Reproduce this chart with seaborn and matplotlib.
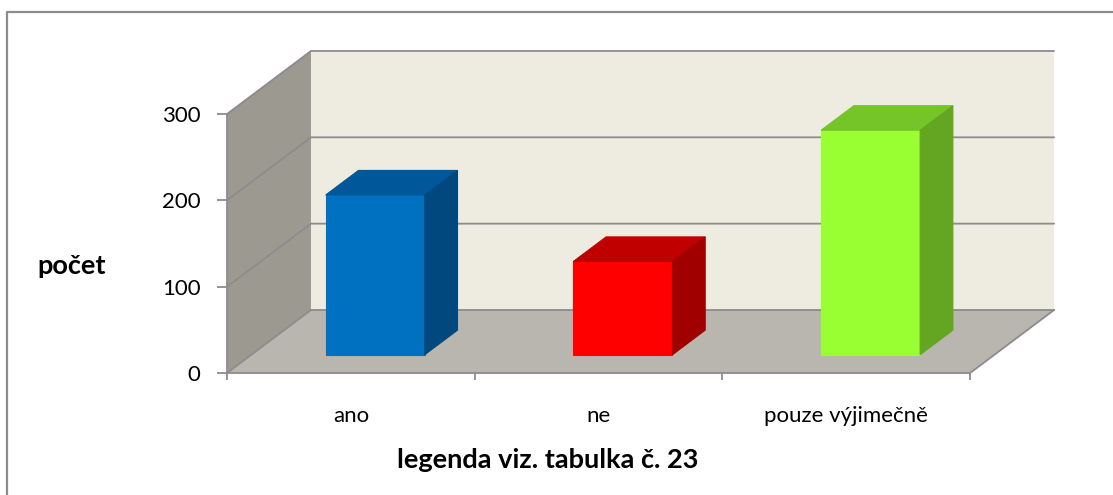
import matplotlib.pyplot as plt
import seaborn as sns
from matplotlib.patches import Polygon, Rectangle
from matplotlib.lines import Line2D

# data
categories = ['ano', 'ne', 'pouze výjimečně']
counts = [185, 108, 260]
y_ticks = [0, 100, 200, 300]

# face colours of the 3D bars (front / top / right side)
front_colors = ['#0070C0', '#FF0000', '#99FF33']
top_colors = ['#00589B', '#C00000', '#76C528']
side_colors = ['#00487E', '#A00000', '#64A622']

sns.set_style('white')
plt.rcParams['font.family'] = ['Lato', 'DejaVu Sans']

W, H = 1113, 495
fig = plt.figure(figsize=(W / 100, H / 100), dpi=100)

# front plane: x=-0.5 at 227 px, y=0 at 373 px
cat_px = 247.7
val_px = 0.8633
xlim = (-0.5, 2.9)
ylim = (0, 380)
ax = fig.add_axes([227 / W, (H - 373) / H,
                   (xlim[1] - xlim[0]) * cat_px / W,
                   (ylim[1] - ylim[0]) * val_px / H])

# depth of the 3D box (full) and of the bars
DX, DY = 0.339, 73
f0, f1 = 0.29, 0.68
top = y_ticks[-1]
grid_col = '#8C8C8C'

# walls and floor
ax.add_patch(Polygon([(-0.5, 0), (-0.5 + DX, DY), (-0.5 + DX, top + DY), (-0.5, top)],
                     fc='#9C9991', ec='none', zorder=0))
ax.add_patch(Polygon([(-0.5 + DX, DY), (2.5 + DX, DY), (2.5 + DX, top + DY), (-0.5 + DX, top + DY)],
                     fc='#EEECE1', ec='none', zorder=0))
ax.add_patch(Polygon([(-0.5, 0), (2.5, 0), (2.5 + DX, DY), (-0.5 + DX, DY)],
                     fc='#B8B6AF', ec='none', zorder=0))

# gridlines running over left wall and back wall
for v in y_ticks:
    ax.plot([-0.5, -0.5 + DX, 2.5 + DX], [v, v + DY, v + DY], color=grid_col, lw=1.3, zorder=1)
ax.plot([2.5, 2.5 + DX], [0, DY], color=grid_col, lw=1.3, zorder=1)

# front faces of bars
sns.barplot(x=categories, y=counts, hue=categories, palette=front_colors, width=0.4,
            saturation=1, legend=False, ax=ax)

bars = sorted([p for p in ax.patches if isinstance(p, Rectangle)], key=lambda p: p.get_x())
ddx, ddy = (f1 - f0) * DX, (f1 - f0) * DY
for i, p in enumerate(bars):
    x, w, h = p.get_x() + f0 * DX, p.get_width(), p.get_height()
    y = f0 * DY
    p.set_x(x)
    p.set_y(y)
    p.set_zorder(3)
    p.set_edgecolor(front_colors[i])
    p.set_linewidth(0.8)
    ax.add_patch(Polygon([(x, y + h), (x + w, y + h), (x + w + ddx, y + h + ddy), (x + ddx, y + h + ddy)],
                         fc=top_colors[i], ec=top_colors[i], lw=0.8, zorder=3))
    ax.add_patch(Polygon([(x + w, y), (x + w, y + h), (x + w + ddx, y + h + ddy), (x + w + ddx, y + ddy)],
                         fc=side_colors[i], ec=side_colors[i], lw=0.8, zorder=3))

ax.set_xlim(*xlim)
ax.set_ylim(*ylim)

# axes
ax.spines['top'].set_visible(False)
ax.spines['right'].set_visible(False)
for s in ['left', 'bottom']:
    ax.spines[s].set_color(grid_col)
    ax.spines[s].set_linewidth(1.3)
ax.spines['left'].set_bounds(0, top)
ax.spines['bottom'].set_bounds(-0.5, 2.5)

ax.set_yticks(y_ticks)
ax.tick_params(axis='y', length=7, width=1.3, color=grid_col, pad=12, labelsize=16,
               labelcolor='black', left=True)
ax.set_xticks([-0.5, 0.5, 1.5, 2.5])
ax.set_xticklabels([])
ax.set_xticks([0, 1, 2], minor=True)
ax.set_xticklabels(categories, minor=True)
ax.tick_params(axis='x', which='major', length=5, width=1.3, color=grid_col, bottom=True)
ax.tick_params(axis='x', which='minor', length=0, pad=24, labelsize=16, labelcolor='black')
ax.set_xlabel('')
ax.set_ylabel('')

fig.text(72 / W, 1 - 266 / H, 'počet', ha='center', va='center', fontsize=19.5,
         fontweight='bold', color='black')
fig.text(548 / W, 1 - 460 / H, 'legenda viz. tabulka č. 23', ha='center', va='center',
         fontsize=19.5, fontweight='bold', color='black')

# outer chart border (only top and left edges fall inside the picture)
fig.add_artist(Line2D([7 / W, 7 / W, 1], [0, 1 - 12 / H, 1 - 12 / H], transform=fig.transFigure,
                      color='#8C8C8C', lw=1.6))

plt.savefig('out.png', dpi=100)
